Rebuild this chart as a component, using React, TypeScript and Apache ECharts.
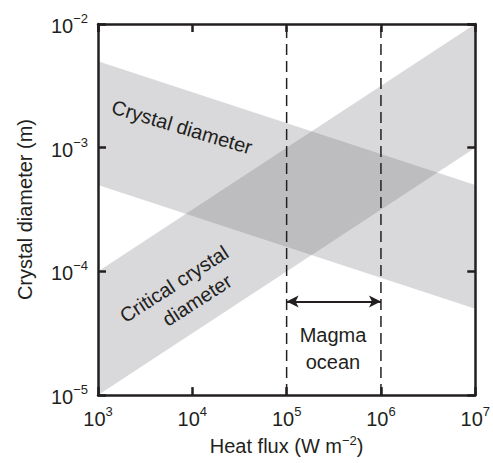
import React, { useEffect, useRef } from 'react';
import * as echarts from 'echarts';

// ---- data ----
const xRange = [1e3, 1e7];
const yRange = [1e-5, 1e-2];
// "Crystal diameter" band (decreasing with heat flux)
const crystalTop = [[1e3, 5e-3], [1e7, 5e-4]];
const crystalBottom = [[1e3, 5e-4], [1e7, 5e-5]];
// "Critical crystal diameter" band (increasing with heat flux)
const criticalTop = [[1e3, 1e-4], [1e7, 1e-2]];
const criticalBottom = [[1e3, 1e-5], [1e7, 1e-3]];
// Magma ocean heat-flux range
const magmaOcean = [1e5, 1e6];
const arrowLevel = 5.7e-5;

const DARK = '#231f20';
const FONT = '"Liberation Sans", Arial, Helvetica, sans-serif';
const BAND_FILL = 'rgba(108,110,116,0.26)';

const supRich = {
  b: { fontSize: 20, lineHeight: 24, verticalAlign: 'bottom', color: DARK, fontFamily: FONT },
  s: { fontSize: 13, lineHeight: 13, verticalAlign: 'top', color: DARK, fontFamily: FONT },
};

const powFmt = (v: number) => {
  const e = Math.round(Math.log10(v));
  const es = e < 0 ? '\u2212' + String(-e) : String(e);
  return `{b|10}{s|${es}}`;
};

const bandSeries = (top: number[][], bottom: number[][]) => ({
  type: 'custom',
  clip: true,
  silent: true,
  z: 1,
  data: [top[0]],
  renderItem: (_params: any, api: any) => {
    const pts = [...top, ...bottom.slice().reverse()].map((p) => api.coord(p));
    return { type: 'polygon', shape: { points: pts }, style: { fill: BAND_FILL } };
  },
});

const dashedSeries = (x: number) => ({
  type: 'line',
  silent: true,
  symbol: 'none',
  z: 3,
  data: [[x, yRange[0]], [x, yRange[1]]],
  lineStyle: { color: DARK, width: 1.5, type: [11, 6] },
});

export default function App() {
  const ref = useRef<HTMLDivElement>(null);
  useEffect(() => {
    if (!ref.current) return;
    const chart = echarts.init(ref.current, undefined, { renderer: 'svg' });
    const axisCommon = {
      type: 'log',
      logBase: 10,
      z: 10,
      axisLine: { show: true, lineStyle: { color: DARK, width: 2.5 } },
      axisTick: { show: true, inside: true, length: 8, lineStyle: { color: DARK, width: 2.5 } },
      splitLine: { show: false },
      minorTick: { show: false },
      minorSplitLine: { show: false },
    };
    chart.setOption({
      animation: false,
      grid: { left: 98, top: 24, right: 16, bottom: 65, containLabel: false },
      xAxis: [
        {
          ...axisCommon,
          min: xRange[0],
          max: xRange[1],
          position: 'bottom',
          axisLabel: { formatter: powFmt, rich: supRich, margin: 10 },
          name: 'Heat flux (W m{s|\u22122})',
          nameLocation: 'middle',
          nameGap: 36,
          nameTextStyle: {
            fontSize: 20,
            lineHeight: 24,
            color: DARK,
            fontFamily: FONT,
            rich: { s: supRich.s },
          },
        },
        {
          ...axisCommon,
          min: xRange[0],
          max: xRange[1],
          position: 'top',
          axisLabel: { show: false },
        },
      ],
      yAxis: [
        {
          ...axisCommon,
          min: yRange[0],
          max: yRange[1],
          position: 'left',
          axisLabel: { formatter: powFmt, rich: supRich, margin: 10 },
          name: 'Crystal diameter (m)',
          nameLocation: 'middle',
          nameGap: 63,
          nameRotate: 90,
          nameTextStyle: { fontSize: 20, color: DARK, fontFamily: FONT },
        },
        {
          ...axisCommon,
          min: yRange[0],
          max: yRange[1],
          position: 'right',
          axisLabel: { show: false },
        },
      ],
      series: [
        bandSeries(crystalTop, crystalBottom),
        bandSeries(criticalTop, criticalBottom),
        {
          ...dashedSeries(magmaOcean[0]),
          markLine: {
            silent: true,
            symbol: ['arrow', 'arrow'],
            symbolSize: [9, 12],
            label: { show: false },
            emphasis: { disabled: true },
            lineStyle: { color: DARK, width: 2, type: 'solid' },
            data: [[{ coord: [magmaOcean[0], arrowLevel] }, { coord: [magmaOcean[1], arrowLevel] }]],
          },
        },
        dashedSeries(magmaOcean[1]),
      ],
      graphic: [
        {
          type: 'text', x: 182, y: 127, rotation: -0.29, z: 20,
          style: { text: 'Crystal diameter', fontSize: 20, fontFamily: FONT, fill: DARK, align: 'center', verticalAlign: 'middle' },
        },
        {
          type: 'text', x: 174, y: 284, rotation: 0.57, z: 20,
          style: { text: 'Critical crystal', fontSize: 20, fontFamily: FONT, fill: DARK, align: 'center', verticalAlign: 'middle' },
        },
        {
          type: 'text', x: 197, y: 300, rotation: 0.57, z: 20,
          style: { text: 'diameter', fontSize: 20, fontFamily: FONT, fill: DARK, align: 'center', verticalAlign: 'middle' },
        },
        {
          type: 'text', x: 333, y: 348, z: 20,
          style: { text: 'Magma\nocean', fontSize: 20, lineHeight: 27, fontFamily: FONT, fill: DARK, align: 'center', verticalAlign: 'middle' },
        },
      ],
    });
    return () => chart.dispose();
  }, []);
  return <div ref={ref} style={{ position: 'absolute', left: 0, top: 0, width: 493, height: 463 }} />;
}
